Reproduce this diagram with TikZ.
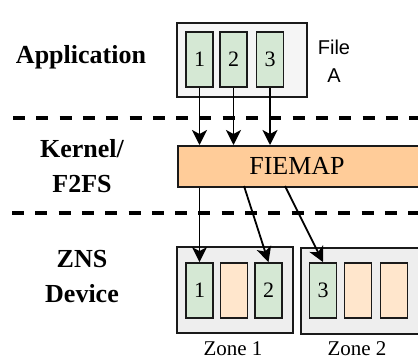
\documentclass[tikz,border=0pt]{standalone}
\usepackage{fontspec}
\setmainfont{Liberation Serif}[BoldFont={Liberation Serif Bold}]
\setsansfont{Liberation Sans}
\usetikzlibrary{arrows.meta}
\definecolor{cgreen}{HTML}{D5E8D4}
\definecolor{corange}{HTML}{FFCC99}
\definecolor{clorange}{HTML}{FFE6CC}
\definecolor{cgreyA}{HTML}{F5F5F5}
\definecolor{cgreyZ}{HTML}{EEEEEE}
\definecolor{cline}{HTML}{1A1A1A}
\begin{document}
\begin{tikzpicture}[x=1pt,y=-1pt,
  outerbox/.style={draw=cline, line width=1.8pt, inner sep=0pt},
  blockbox/.style={draw=cline, line width=1.8pt, inner sep=0pt, minimum width=27pt, minimum height=55pt, font=\fontsize{22}{24}\selectfont},
  gblock/.style={blockbox, fill=cgreen},
  oblock/.style={blockbox, fill=clorange},
  layerlabel/.style={font=\fontspec{Liberation Serif Bold}\fontsize{26}{35}\selectfont, align=center, inner sep=0pt},
  sepline/.style={line width=4pt, dash pattern=on 12pt off 11.3pt},
  arr/.style={line width=1.8pt, -{Stealth[length=15pt,width=15pt,inset=4pt]}}
]
\clip (0,0) rectangle (418,359);
% Application layer
\node[outerbox, fill=cgreyA, minimum width=130pt, minimum height=74pt] (file) at (242,60) {};
\node[gblock] (a1) at (199.5,59.5) {1};
\node[gblock] (a2) at (233.5,59.5) {2};
\node[gblock] (a3) at (270,59.5) {3};
\node[font=\sffamily\fontsize{20}{28}\selectfont, align=center, inner sep=0pt] (filelabel) at (334,61) {File\\A};
\node[layerlabel] (app) at (81,57) {Application};
\draw[sepline] (13,118) -- (418,118);
% Kernel layer
\node[outerbox, fill=corange, minimum width=270pt, minimum height=41pt, anchor=north west] (fiemap) at (177,145) {};
\node[font=\fontsize{26}{30}\selectfont, inner sep=0pt] (fiemaptext) at (297,166) {FIEMAP};
\node[layerlabel] (kernel) at (82,166) {Kernel/\\F2FS};
\draw[sepline] (12,213) -- (418,213);
% Device layer
\node[outerbox, fill=cgreyZ, minimum width=116pt, minimum height=86pt] (zone1) at (235,290) {};
\node[outerbox, fill=cgreyZ, minimum width=140pt, minimum height=86pt, anchor=north west] (zone2) at (300,247) {};
\node[gblock] (z1a) at (199.5,290.5) {1};
\node[oblock] (z1b) at (234,290.5) {};
\node[gblock] (z1c) at (268.5,290.5) {2};
\node[gblock] (z2a) at (323,290.5) {3};
\node[oblock] (z2b) at (358,290.5) {};
\node[oblock] (z2c) at (394,290.5) {};
\node[font=\fontsize{21}{24}\selectfont, inner sep=0pt] (zl1) at (233,349) {Zone 1};
\node[font=\fontsize{21}{24}\selectfont, inner sep=0pt] (zl2) at (357,349) {Zone 2};
\node[layerlabel] (zns) at (82,277) {ZNS\\Device};
% connectors
\draw[arr] (a1.south) -- (a1.south |- fiemap.north);
\draw[arr] (a2.south) -- (a2.south |- fiemap.north);
\draw[arr] (a3.south) -- (a3.south |- fiemap.north);
\coordinate (s2) at (244,186);
\coordinate (s3) at (285,186);
\draw[arr] (fiemap.south -| z1a.north) -- (z1a.north);
\draw[arr] (s2) -- (z1c.north);
\draw[arr] (s3) -- (z2a.north);
\end{tikzpicture}
\end{document}
